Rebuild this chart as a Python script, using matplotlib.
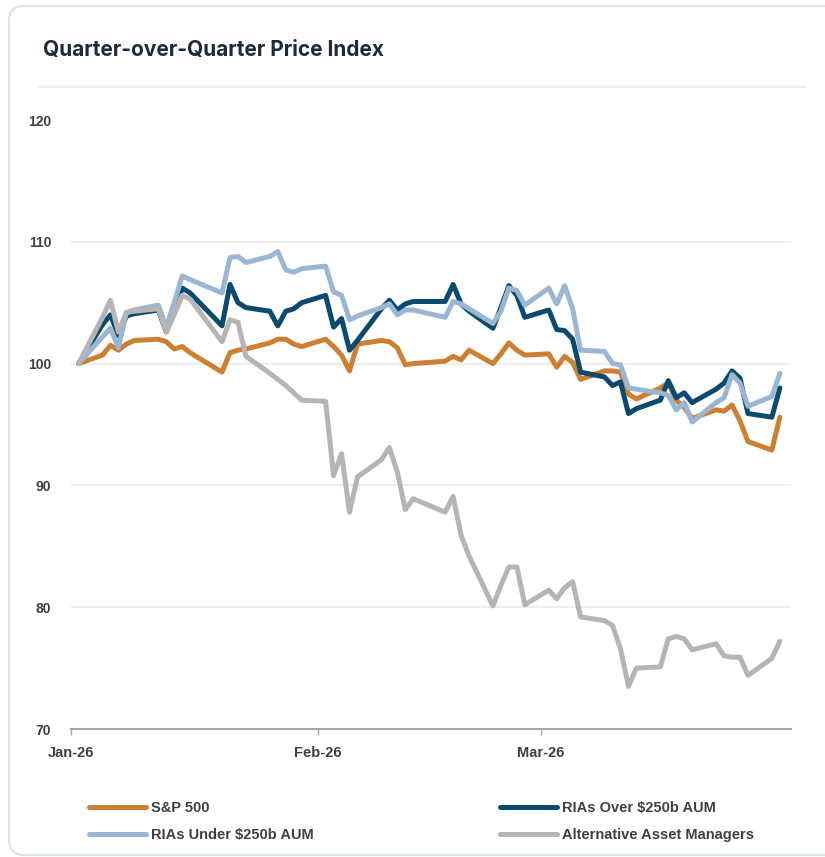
import numpy as np
import pandas as pd
import matplotlib
matplotlib.use("Agg")
import matplotlib.pyplot as plt
import matplotlib.dates as mdates
from matplotlib.patches import FancyBboxPatch
from matplotlib.lines import Line2D

plt.rcParams['font.family'] = ['Liberation Sans', 'DejaVu Sans']

# trading days of Q1 2026 (MLK day and Presidents' day closed)
dates = pd.bdate_range('2026-01-02', '2026-03-31')
dates = dates.drop(pd.to_datetime(['2026-01-19', '2026-02-16']))
month_ticks = pd.to_datetime(['2026-01-01', '2026-02-01', '2026-03-01'])

sp500 = [100.0, 100.7, 101.5, 101.1, 101.6, 101.9, 102.0, 101.8, 101.2, 101.4,
         100.9, 99.3, 100.9, 101.1, 101.2, 101.7, 102.0, 102.0, 101.6, 101.4,
         102.0, 101.4, 100.7, 99.4, 101.6, 101.9, 101.8, 101.3, 99.9, 100.0,
         100.2, 100.6, 100.3, 101.1, 100.0, 100.8, 101.7, 101.1, 100.7,
         100.8, 99.7, 100.6, 100.1, 98.7, 99.4, 99.4, 99.3, 97.5, 97.1,
         98.0, 98.4, 97.0, 96.4, 95.5, 96.2, 96.1, 96.6, 95.3, 93.6, 92.9, 95.6]

rias_over = [100.0, 103.2, 104.0, 102.3, 103.9, 104.1, 104.4, 102.6, 104.3, 106.2,
             105.8, 103.1, 106.5, 105.0, 104.6, 104.3, 103.1, 104.3, 104.5, 105.0,
             105.6, 103.0, 103.7, 101.1, 101.9, 104.5, 105.2, 104.4, 104.9, 105.1,
             105.1, 106.5, 104.9, 104.3, 102.9, 104.6, 106.4, 105.6, 103.8,
             104.4, 102.8, 102.7, 102.0, 99.3, 98.9, 98.2, 98.5, 95.9, 96.3,
             97.0, 98.6, 97.2, 97.6, 96.8, 97.9, 98.4, 99.4, 98.8, 95.9, 95.6, 98.0]

rias_under = [100.0, 102.2, 102.9, 101.3, 104.2, 104.4, 104.8, 103.0, 105.0, 107.2,
              106.9, 105.8, 108.7, 108.8, 108.3, 108.8, 109.2, 107.7, 107.5, 107.8,
              108.0, 105.9, 105.6, 103.6, 103.9, 104.6, 104.9, 104.0, 104.4, 104.4,
              103.8, 105.1, 104.9, 104.5, 103.3, 104.3, 106.2, 106.0, 104.8,
              106.2, 104.9, 106.4, 104.5, 101.1, 101.0, 100.0, 99.9, 98.0, 97.9,
              97.6, 97.4, 96.2, 96.8, 95.2, 96.8, 97.2, 99.1, 98.4, 96.5, 97.3, 99.2]

alt_managers = [100.0, 103.8, 105.2, 102.6, 104.2, 104.3, 104.5, 102.6, 104.0, 105.6,
                105.3, 101.8, 103.6, 103.4, 100.6, 99.2, 98.7, 98.2, 97.6, 97.0,
                96.9, 90.8, 92.6, 87.8, 90.7, 92.1, 93.1, 91.1, 88.0, 88.9,
                87.8, 89.1, 85.9, 84.2, 80.1, 81.8, 83.3, 83.3, 80.2,
                81.4, 80.7, 81.6, 82.1, 79.2, 78.9, 78.5, 76.6, 73.5, 75.0,
                75.1, 77.4, 77.6, 77.4, 76.5, 77.0, 76.0, 75.9, 75.9, 74.4, 75.8, 77.2]

series = [
    ('S&P 500', sp500, '#cd7f32'),
    ('RIAs Over $250b AUM', rias_over, '#0b4a6f'),
    ('RIAs Under $250b AUM', rias_under, '#9ab6d2'),
    ('Alternative Asset Managers', alt_managers, '#b5b5b5'),
]

fig = plt.figure(figsize=(8.25, 8.57), dpi=100)
fig.patch.set_facecolor('white')

# card frame + title
card = FancyBboxPatch((9 / 825, 1 - 855 / 857), 1.1, 849 / 857,
                      boxstyle='round,pad=0,rounding_size=0.018',
                      transform=fig.transFigure, facecolor='none',
                      edgecolor='#dde4ec', linewidth=1.6)
fig.add_artist(card)
fig.text(43 / 825, 1 - 50 / 857, 'Quarter-over-Quarter Price Index',
         fontsize=15, fontweight='bold', color='#1e2a3b',
         ha='left', va='center', family=['Inter', 'Liberation Sans', 'DejaVu Sans'])
fig.add_artist(Line2D([40 / 825, 805 / 825], [1 - 87 / 857] * 2,
                      color='#e8ecf0', linewidth=1.5))

ax = fig.add_axes([70.6 / 825, 1 - 729 / 857, (791 - 70.6) / 825, (729 - 120) / 857])

handles = {}
for name, vals, col in series:
    ln, = ax.plot(dates, vals, color=col, linewidth=3.6, label=name,
                  solid_joinstyle='round', solid_capstyle='round')
    handles[name] = ln

start = mdates.date2num(month_ticks[0])
ax.set_xlim(start, start + 90.4)
ax.set_ylim(70, 120)
ax.set_yticks([70, 80, 90, 100, 110, 120])
ax.set_xticks(month_ticks)
ax.xaxis.set_major_formatter(mdates.DateFormatter('%b-%y'))

ax.grid(axis='y', color='#eeeeee', linewidth=1.5)
ax.set_axisbelow(True)
for g in ax.get_ygridlines()[-1:] + ax.get_ygridlines()[:1]:
    g.set_visible(False)
for s in ['top', 'right', 'left']:
    ax.spines[s].set_visible(False)
ax.spines['bottom'].set_color('#a6a6a6')
ax.spines['bottom'].set_linewidth(1.5)

ax.tick_params(axis='y', length=0, pad=14, labelsize=10, labelcolor='#404040')
ax.tick_params(axis='x', length=4, width=1, color='#a6a6a6', pad=8,
               labelsize=10.5, labelcolor='#404040')
for lab in ax.get_xticklabels() + ax.get_yticklabels():
    lab.set_fontweight('bold')

order = ['S&P 500', 'RIAs Under $250b AUM', 'RIAs Over $250b AUM', 'Alternative Asset Managers']
leg = fig.legend([handles[n] for n in order], order, ncol=2, frameon=False,
                 loc='upper left', bbox_to_anchor=(89 / 825, 1 - 801 / 857),
                 handlelength=3.9, handletextpad=0.35, columnspacing=12.8,
                 labelspacing=0.9, borderaxespad=0, borderpad=0,
                 prop={'weight': 'bold', 'size': 10.5})
for t in leg.get_texts():
    t.set_color('#404040')

fig.savefig('out.png', dpi=100)
